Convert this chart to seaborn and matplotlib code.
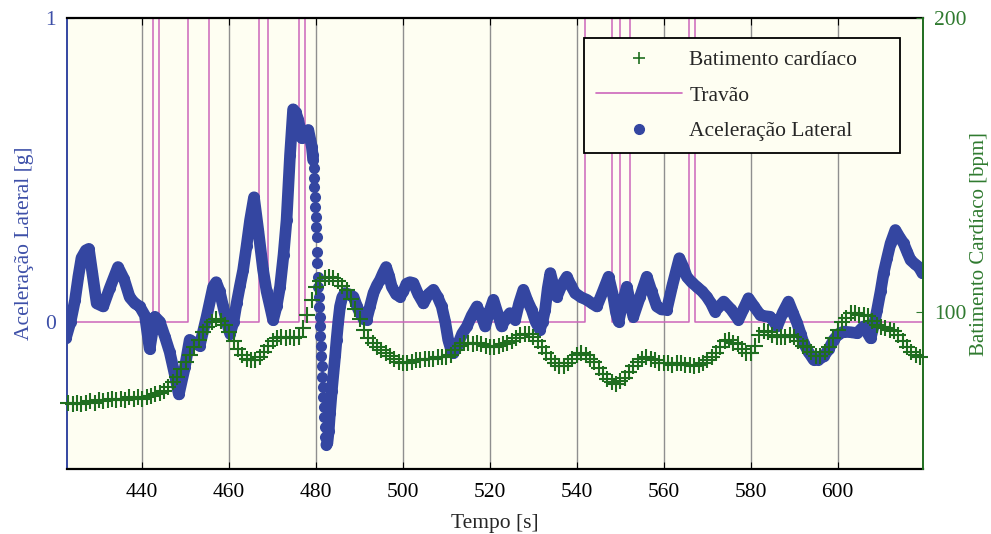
import pandas as pd
import seaborn as sns
import matplotlib.pyplot as plt
from matplotlib.lines import Line2D

# Aceleração lateral [g] (tempo em s)
acc_time = [422.4, 423.5, 424.5, 425.3, 426.0, 427.0, 427.7, 428.5, 429.5, 431.0,
            432.5, 434.4, 435.8, 437.1, 438.3, 439.4, 440.6, 441.7, 442.9, 444.0,
            445.2, 446.3, 447.4, 448.4, 449.8, 450.9, 452.0, 453.2, 454.8, 456.3,
            457.0, 457.8, 458.6, 459.4, 460.2, 461.0, 461.7, 462.5, 463.2, 464.0,
            464.8, 465.7, 466.7, 467.8, 468.6, 469.4, 470.1, 470.9, 471.7, 472.5,
            473.2, 474.0, 474.7, 475.3, 475.9, 476.7, 477.5, 478.2, 479.0, 479.2,
            479.3, 479.4, 479.5, 479.6, 479.7, 479.8, 479.9, 480.0, 480.1, 480.2,
            480.3, 480.4, 480.5, 480.6, 480.7, 480.8, 480.9, 481.0, 481.1, 481.2,
            481.3, 481.4, 481.5, 481.6, 481.7, 481.85, 482.0, 482.15, 482.35,
            482.6, 482.9, 483.2, 483.6, 484.0, 484.4, 484.7, 485.1, 485.5, 486.0,
            486.6, 487.6, 488.6, 489.4, 490.1, 490.9, 491.6, 492.4, 493.2, 494.0,
            494.7, 495.4, 496.1, 496.8, 497.4, 498.4, 499.3, 500.1, 500.8, 501.6,
            502.4, 503.5, 504.7, 505.8, 507.0, 508.0, 508.9, 509.7, 510.4, 511.0,
            511.6, 512.5, 513.6, 514.7, 515.8, 517.0, 518.0, 518.9, 519.8, 520.8,
            521.7, 522.7, 523.6, 524.6, 525.8, 526.7, 527.7, 528.6, 529.6, 530.5,
            531.5, 532.1, 532.7, 533.3, 533.9, 534.6, 535.4, 536.5, 537.7, 538.6,
            539.6, 541.0, 542.3, 543.5, 544.6, 546.0, 547.3, 548.4, 549.0, 549.6,
            550.5, 551.5, 552.3, 553.0, 554.5, 556.1, 557.2, 558.4, 559.5, 560.7,
            562.0, 563.6, 564.5, 565.3, 566.4, 567.6, 568.8, 569.9, 570.9, 571.8,
            572.8, 573.8, 575.5, 577.2, 578.3, 579.5, 580.8, 582.2, 583.3, 584.5,
            586.1, 587.4, 588.7, 589.7, 590.7, 591.5, 592.2, 593.3, 594.5, 595.6,
            596.8, 598.0, 599.1, 600.3, 601.4, 603.0, 604.5, 606.0, 607.6, 608.4,
            609.1, 609.9, 610.6, 611.4, 612.2, 613.3, 614.2, 615.2, 616.0, 616.8,
            617.8, 618.7, 619.5]
acc_g = [-0.055, 0.0, 0.07, 0.15, 0.21, 0.235, 0.24, 0.16, 0.06, 0.05,
         0.11, 0.18, 0.14, 0.08, 0.06, 0.05, 0.02, -0.09, 0.016, 0.0,
         -0.05, -0.10, -0.17, -0.24, -0.15, -0.06, -0.07, -0.08, 0.016, 0.115,
         0.13, 0.10, 0.05, 0.0, -0.04, 0.0, 0.06, 0.12, 0.17, 0.25,
         0.335, 0.41, 0.30, 0.17, 0.10, 0.05, 0.005, 0.05, 0.115, 0.22,
         0.335, 0.55, 0.70, 0.69, 0.665, 0.605, 0.62, 0.632, 0.577, 0.55,
         0.533, 0.506, 0.473, 0.445, 0.412, 0.379, 0.346, 0.313, 0.280, 0.231,
         0.192, 0.148, 0.115, 0.082, 0.049, 0.016, -0.016, -0.049, -0.082, -0.115,
         -0.148, -0.181, -0.214, -0.247, -0.280, -0.313, -0.346, -0.379, -0.406,
         -0.40, -0.36, -0.30, -0.23, -0.17, -0.11, -0.06, 0.0, 0.05, 0.08,
         0.094, 0.09, 0.082, 0.05, 0.028, 0.01, 0.006, 0.05, 0.094, 0.12,
         0.137, 0.16, 0.18, 0.15, 0.115, 0.09, 0.082, 0.10, 0.125, 0.13,
         0.127, 0.09, 0.06, 0.09, 0.105, 0.08, 0.05, 0.0, -0.06, -0.09,
         -0.104, -0.08, -0.04, -0.016, 0.02, 0.05, 0.02, -0.016, 0.03, 0.072,
         0.03, -0.016, 0.01, 0.028, 0.006, 0.06, 0.105, 0.07, 0.039, 0.0,
         -0.027, 0.0, 0.039, 0.11, 0.16, 0.12, 0.082, 0.12, 0.148, 0.12,
         0.094, 0.08, 0.072, 0.06, 0.05, 0.10, 0.148, 0.082, 0.03, 0.0,
         0.06, 0.115, 0.06, 0.016, 0.08, 0.148, 0.10, 0.05, 0.04, 0.039,
         0.12, 0.209, 0.18, 0.148, 0.13, 0.115, 0.10, 0.082, 0.06, 0.033,
         0.05, 0.066, 0.04, 0.006, 0.04, 0.077, 0.05, 0.022, 0.018, 0.016,
         -0.016, 0.03, 0.066, 0.03, -0.005, -0.04, -0.071, -0.10, -0.126, -0.125,
         -0.115, -0.09, -0.06, -0.04, -0.033, -0.035, -0.038, -0.016, -0.055, -0.01,
         0.039, 0.10, 0.16, 0.21, 0.258, 0.302, 0.28, 0.258, 0.23, 0.203,
         0.19, 0.18, 0.16]

# batimento cardíaco [bpm], uma leitura por segundo de 423 a 619 s
hr_time = list(range(423, 620))
hr_bpm = [69, 68.5, 69, 68.5, 69, 69.5, 69, 70, 69.5, 70, 70.5, 70,
          70.5, 70, 71, 70.5, 71, 70.5, 71, 71.5, 72, 72.5, 73, 74.5, 76, 78, 80.5, 83,
          85.5, 88, 90.5, 93, 95, 96.5, 97.5, 97, 95.5, 93, 90, 87.5, 85.5, 84,
          83.5, 83.5, 84.5, 86.5, 88.5, 90, 91, 91.5, 91, 91.5, 91, 91.5, 94.5, 99,
          104, 108.5, 110.5, 111.5, 112, 111.5, 110.5, 109, 107.5, 104.5, 101, 97.5, 94, 91,
          89.5, 88, 87, 86, 85, 84, 83, 82.5, 82.5, 83, 83.5, 83.5, 84, 84,
          84, 84.5, 84.5, 84.5, 85.5, 87, 88.5, 89.5, 89.5, 89, 89.5, 89, 88.5, 88,
          88, 88.5, 89, 89.5, 90, 91, 92, 92.5, 92.5, 91.5, 90, 88, 86, 84,
          82.5, 81.5, 81.5, 82.5, 84, 85.5, 86, 85.5, 84, 83, 81, 79, 77, 76,
          75.5, 76.5, 77.5, 79.5, 81.5, 83, 84, 84.5, 84, 83.5, 82.5, 82.5, 82.5, 82,
          82.5, 82.5, 82, 82, 81.5, 82, 82.5, 83.5, 84.5, 86, 88, 90, 90.5, 89.5,
          89, 87.5, 86, 86, 88.5, 92, 93.5, 93, 92, 91.5, 91.5, 91.5, 92, 91.5,
          90, 88.5, 88, 86.5, 85, 85, 86.5, 88, 91, 94, 96.5, 98, 99.5, 99.5,
          99, 99, 98.5, 97, 95.5, 95, 94.5, 94, 93.5, 92, 90, 88, 86.5, 85.5,
          84.5]

# travão: instantes de mudança e estado (0 = solto, 1 = acionado)
brake_time = [422.5, 442.5, 443.9, 450.6, 455.3, 466.8, 468.9, 476.1, 477.4,
              541.8, 548.1, 550.0, 552.3, 565.9, 567.2, 619.7]
brake_state = [0, 1, 0, 1, 0, 1, 0, 1, 0, 1, 0, 1, 0, 1, 0, 0]

x_ticks = [440, 460, 480, 500, 520, 540, 560, 580, 600]
labels = ['Batimento cardíaco', 'Travão', 'Aceleração Lateral']

blue = '#3446a1'
green = '#1f6e1f'
pink = '#cc66bb'
lbl_blue = '#3d4fa8'
lbl_green = '#2f7a2f'

sns.set_style('ticks')
plt.rcParams['font.family'] = ['Liberation Serif', 'DejaVu Serif']
plt.rcParams['font.size'] = 15.5

acc = pd.DataFrame({'t': acc_time, 'g': acc_g})
hr = pd.DataFrame({'t': hr_time, 'bpm': hr_bpm})
brake = pd.DataFrame({'t': brake_time, 's': brake_state})

fig = plt.figure(figsize=(9.91, 5.34), dpi=100)
ax = fig.add_axes([0.0673, 0.1217, 0.8638, 0.8440])
ax.set_facecolor('#fefef2')

# travão
ax.step(brake['t'], brake['s'], where='post', color=pink, lw=1.1, zorder=2)

# aceleração: traço grosso + pontos (a queda rápida só com pontos)
before = acc[acc['t'] <= 479.3]
after = acc[acc['t'] >= 482.35]
for part in (before, after):
    sns.lineplot(data=part, x='t', y='g', ax=ax, color=blue, lw=8.4,
                 sort=False, estimator=None, solid_capstyle='round',
                 solid_joinstyle='round', zorder=3)
sns.scatterplot(data=acc, x='t', y='g', ax=ax, color=blue, s=64,
                linewidth=0, zorder=3)

ax.set_xlim(422.6, 619.6)
ax.set_ylim(-0.486, 1)
ax.set_xticks(x_ticks)
ax.set_yticks([0, 1])
ax.set_yticklabels(['0', '1'])
ax.xaxis.grid(True, color='#8f8f8f', lw=1)
ax.set_axisbelow(True)
ax.set_xlabel('Tempo [s]', labelpad=9)
ax.set_ylabel('Aceleração Lateral [g]', color=lbl_blue, labelpad=8)
ax.tick_params(axis='x', direction='in', length=5, top=True, pad=10,
               colors='black')
ax.tick_params(axis='y', direction='in', length=5, pad=8, colors=lbl_blue)
ax.spines['left'].set_color(blue)
for s in ('top', 'bottom'):
    ax.spines[s].set_color('black')
    ax.spines[s].set_linewidth(1.6)
ax.spines['left'].set_linewidth(1.4)
ax.spines['right'].set_visible(False)

# batimento cardíaco no eixo da direita
ax2 = ax.twinx()
sns.lineplot(data=hr, x='t', y='bpm', ax=ax2, color=green, linestyle='none',
             marker='+', markersize=12, markeredgewidth=1.5,
             markeredgecolor=green, markerfacecolor=green, sort=False,
             estimator=None, clip_on=False)
ax2.set_ylim(46.5, 200)
ax2.set_yticks([100, 200])
ax2.set_ylabel('Batimento Cardíaco [bpm]', color=lbl_green, labelpad=3,
               fontsize=15)
ax2.set_xlabel('')
ax2.tick_params(axis='y', direction='in', length=5, pad=8, colors=lbl_green)
ax2.spines['right'].set_color(green)
ax2.spines['right'].set_linewidth(1.4)
for s in ('top', 'bottom', 'left'):
    ax2.spines[s].set_visible(False)
ax.set_xlim(422.6, 619.6)

handles = [Line2D([], [], ls='none', marker='+', color=green, ms=9, mew=1.2),
           Line2D([], [], color=pink, lw=1.2),
           Line2D([], [], ls='none', marker='o', color=blue, ms=7)]
leg = ax2.legend(handles, labels, loc='upper left',
                 bbox_to_anchor=(0.6043, 0.70, 0.3692, 0.2556), mode='expand',
                 borderaxespad=0, fancybox=False, framealpha=1,
                 facecolor='#fefef2', edgecolor='black', borderpad=0.55,
                 handlelength=4, handletextpad=0.35, labelspacing=0.72)
leg.get_frame().set_linewidth(1.3)

fig.savefig('out.png', dpi=100)
